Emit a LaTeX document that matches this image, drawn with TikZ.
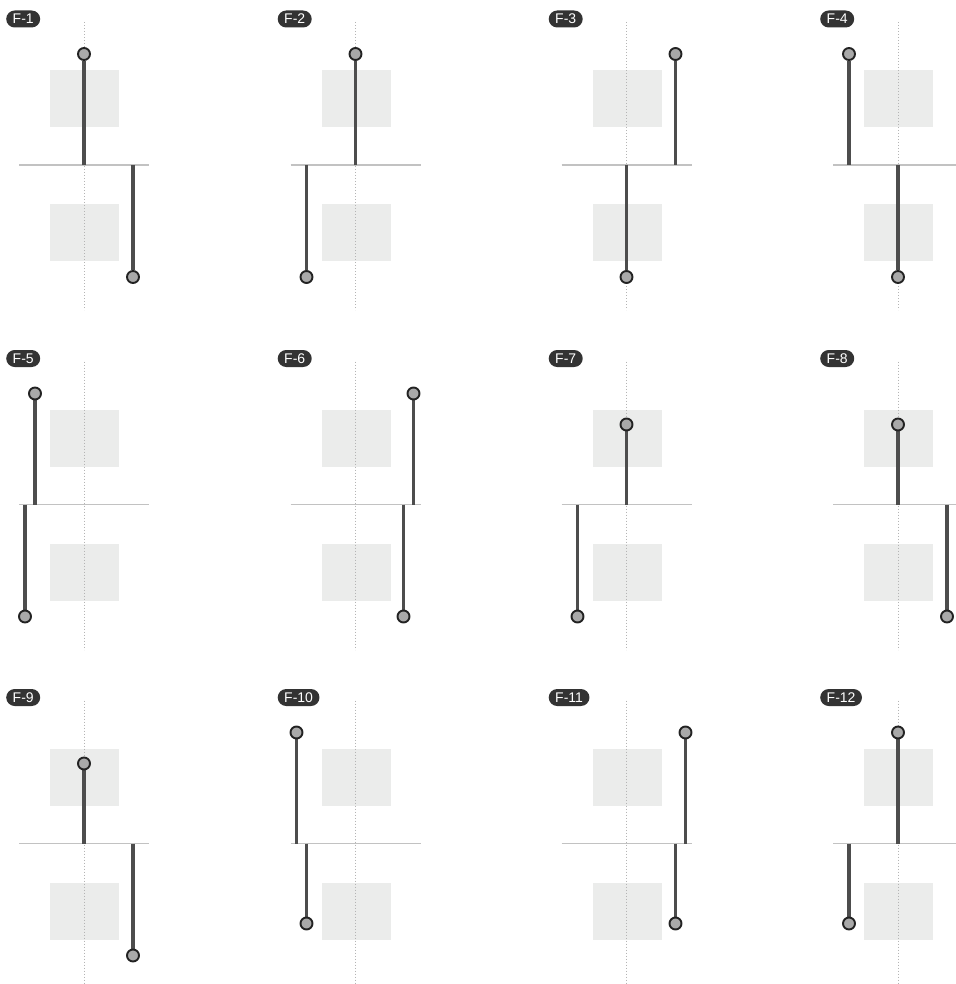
\documentclass[tikz,border=0pt]{standalone}
\usepackage{fontspec}
\setmainfont{Liberation Sans}
\definecolor{boxc}{HTML}{EBECEB}
\definecolor{axisc}{HTML}{C2C2C2}
\definecolor{dotc}{HTML}{B4B4B4}
\definecolor{stemc}{HTML}{4D4D4D}
\definecolor{pinfill}{HTML}{A9A9A9}
\definecolor{pinedge}{HTML}{222222}
\definecolor{badgec}{HTML}{333333}
\tikzset{
 zone/.style={fill=boxc, draw=none},
 axisline/.style={draw=axisc, line width=1.7pt},
 guide/.style={draw=dotc, line width=0.9pt, dash pattern=on 1pt off 2pt},
 stem/.style={draw=stemc, line width=3.4pt},
 pin/.style={circle, fill=pinfill, draw=pinedge, line width=1.9pt, minimum size=12pt, inner sep=0pt},
 badge/.style={fill=badgec, text=white, rounded corners=8.5pt, minimum height=17pt, inner xsep=6.5pt, inner ysep=0pt, font=\fontsize{14}{14}\selectfont, anchor=west}
}
\pgfdeclarelayer{pins}
\pgfsetlayers{main,pins}
% #1 id, #2 cx, #3 line y, #4 top dx, #5 top height, #6 bottom dx, #7 bottom depth, #8 label
\newcommand\fpanel[8]{%
 \fill[zone] (#2-34,#3-95) rectangle (#2+35,#3-38);
 \fill[zone] (#2-34,#3+39) rectangle (#2+35,#3+96);
 \draw[guide] (#2,#3-143) -- (#2,#3+145);
 \draw[axisline] (#2-65,#3) -- (#2+65,#3);
 \coordinate (ta#1) at (#2+#4,#3);
 \coordinate (ba#1) at (#2+#6,#3);
 \begin{pgfonlayer}{pins}
 \node[pin] (tp#1) at (#2+#4,#3-#5) {};
 \node[pin] (bp#1) at (#2+#6,#3+#7) {};
 \end{pgfonlayer}
 \draw[stem] (ta#1) -- (tp#1);
 \draw[stem] (ba#1) -- (bp#1);
 \node[badge] (lb#1) at (#2-78,#3-146) {#8};
}
\begin{document}
\begin{tikzpicture}[x=1pt,y=-1pt]
\useasboundingbox (0,0) rectangle (955,984);
\fpanel{1}{84}{165}{0}{111}{49}{112}{F-1}
\fpanel{2}{355.5}{165}{0}{111}{-49}{112}{F-2}
\fpanel{3}{626.5}{165}{49}{111}{0}{112}{F-3}
\fpanel{4}{898}{165}{-49}{111}{0}{112}{F-4}
\fpanel{5}{84}{504.5}{-49}{111}{-59}{112}{F-5}
\fpanel{6}{355.5}{504.5}{58}{111}{48}{112}{F-6}
\fpanel{7}{626.5}{504.5}{0}{80}{-49}{112}{F-7}
\fpanel{8}{898}{504.5}{0}{80}{49}{112}{F-8}
\fpanel{9}{84}{843.5}{0}{80}{49}{112}{F-9}
\fpanel{10}{355.5}{843.5}{-59}{111}{-49}{80}{F-10}
\fpanel{11}{626.5}{843.5}{59}{111}{49}{80}{F-11}
\fpanel{12}{898}{843.5}{0}{111}{-49}{80}{F-12}
\end{tikzpicture}
\end{document}
